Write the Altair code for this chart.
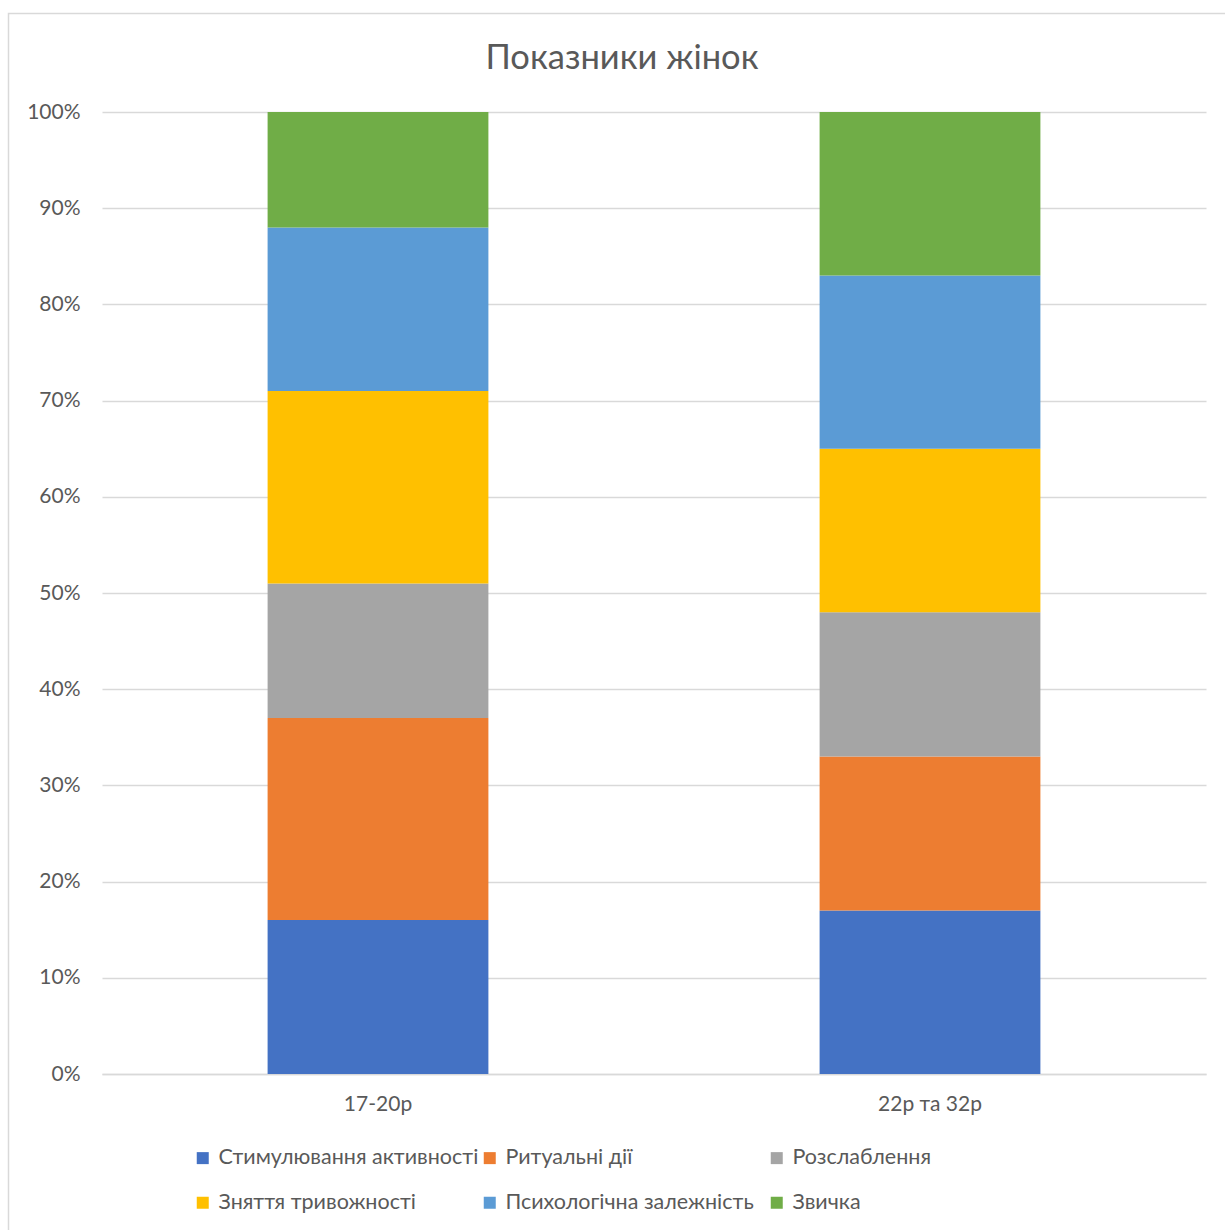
import altair as alt
import pandas as pd

# Age groups (x categories) and the six motive series, bottom to top
groups = ["17-20р", "22р та 32р"]
series = [
    "Стимулювання активності",
    "Ритуальні дії",
    "Розслаблення",
    "Зняття тривожності",
    "Психологічна залежність",
    "Звичка",
]
# Percent values per series, in the order of `groups`
stimulation = [16, 17]
rituals = [21, 16]
relaxation = [14, 15]
anxiety_relief = [20, 17]
dependence = [17, 18]
habit = [12, 17]

colors = ["#4472C4", "#ED7D31", "#A5A5A5", "#FFC000", "#5B9BD5", "#70AD47"]

values = [stimulation, rituals, relaxation, anxiety_relief, dependence, habit]
rows = []
for i, (name, vals) in enumerate(zip(series, values)):
    for g, v in zip(groups, vals):
        rows.append({"group": g, "series": name, "value": v, "idx": i})
df = pd.DataFrame(rows)

FONT = "Lato"
TEXT = "#595959"
GRID = "#D9D9D9"
W, H = 1104, 962

bars = alt.Chart(df).mark_bar().encode(
    x=alt.X(
        "group:N",
        sort=groups,
        title=None,
        scale=alt.Scale(paddingInner=0.6, paddingOuter=0.3),
        axis=alt.Axis(
            labelAngle=0, ticks=False, domain=True, domainColor=GRID,
            domainWidth=1.5, labelPadding=19, labelFontSize=21,
            labelColor=TEXT, labelFont=FONT, grid=False,
        ),
    ),
    y=alt.Y(
        "value:Q",
        stack="normalize",
        title=None,
        scale=alt.Scale(domain=[0, 1]),
        axis=alt.Axis(
            format=".0%", values=[i / 10 for i in range(11)], ticks=False,
            domain=False, labelPadding=22, labelFontSize=21,
            labelColor=TEXT, labelFont=FONT, gridColor=GRID, gridWidth=1.5,
        ),
    ),
    color=alt.Color(
        "series:N",
        sort=series,
        scale=alt.Scale(domain=series, range=colors),
        legend=alt.Legend(
            title=None, orient="none", legendX=90, legendY=1035,
            direction="horizontal", columns=3, gridAlign="all",
            symbolType="square", symbolSize=144, symbolStrokeWidth=0,
            symbolOffset=0, labelOffset=5, labelFontSize=21.5, labelFont=FONT,
            labelColor=TEXT, columnPadding=-1, rowPadding=22, padding=0,
            labelLimit=400,
        ),
    ),
    order=alt.Order("idx:Q", sort="ascending"),
)

# light frame around the whole chart
frame = alt.Chart(pd.DataFrame({"k": [0]})).mark_rect(
    fill=None, stroke=GRID, strokeWidth=1.5
).encode(
    x=alt.value(-93.5), x2=alt.value(1130), y=alt.value(-98.5), y2=alt.value(1130)
)

chart = alt.layer(frame, bars).properties(
    width=W,
    height=H,
    background="white",
    title=alt.TitleParams(
        "Показники жінок", fontSize=34.5, font=FONT, color=TEXT,
        fontWeight="normal", anchor="middle", frame="group", offset=0,
        dx=-32, dy=64,
    ),
    autosize=alt.AutoSizeParams(type="none"),
    padding={"left": 102, "right": 19, "top": 112, "bottom": 156},
).configure_view(strokeWidth=0, stroke="transparent")

chart.save("out.html", embed_options={"renderer": "svg", "actions": False})
